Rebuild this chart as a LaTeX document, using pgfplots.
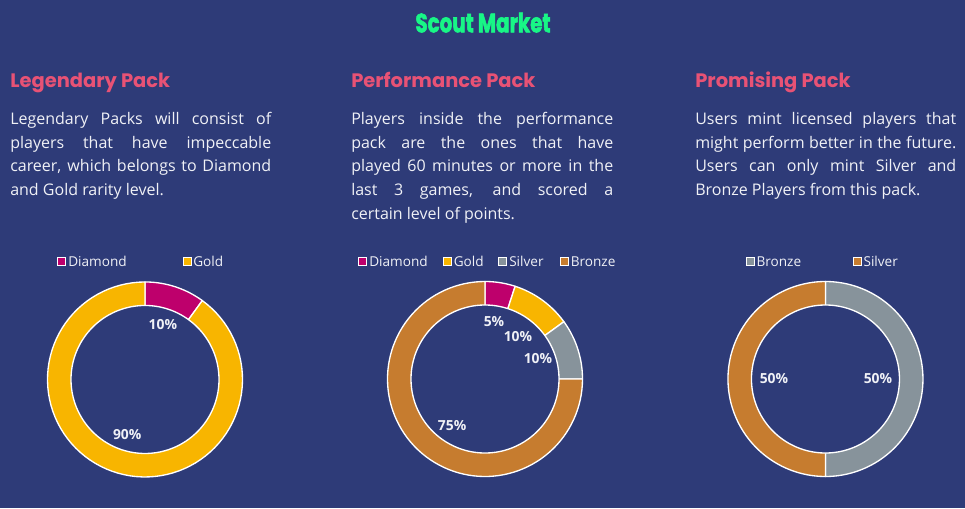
\documentclass[border=0pt]{standalone}
\usepackage{pgfplots}
\pgfplotsset{compat=1.18}
\usepackage{fontspec}
\setmainfont{Open Sans}
\newfontfamily\headfont{Poppins}
\newfontfamily\titlefont{Poppins}[BoldFeatures={FakeBold=2.5}]

\definecolor{bg}{RGB}{46,59,120}
\definecolor{diamond}{RGB}{190,0,108}
\definecolor{gold}{RGB}{248,181,0}
\definecolor{silver}{RGB}{135,147,155}
\definecolor{bronze}{RGB}{198,124,47}
\definecolor{headpink}{RGB}{232,82,117}
\definecolor{titlegreen}{RGB}{24,246,134}
\definecolor{bodywhite}{RGB}{240,241,246}

% one px of the reference = 0.75pt
\pgfplotsset{donut/.style={hide axis, x=0.75pt, y=0.75pt,
    xmin=-100, xmax=100, ymin=-100, ymax=100,
    anchor=center, clip=false}}

% slices run clockwise from 12 o'clock
\newcommand\resetcum{\gdef\cum{0}}
\newcommand\slice[2]{%
  \pgfmathsetmacro\sa{90-3.6*\cum}%
  \pgfmathsetmacro\sb{90-3.6*(\cum+#1)}%
  \pgfmathsetmacro\newcum{\cum+#1}\xdef\cum{\newcum}%
  \edef\temp{\noexpand\addplot[fill=#2, draw=white, line width=1pt,
      line join=round, domain=\sb:\sa, samples=90]
      ({97.5*cos(x)},{97.5*sin(x)}) -- (axis cs:0,0) -- cycle;}%
  \temp}
\newcommand\hole{%
  \addplot[fill=bg, draw=white, line width=1pt, domain=0:360, samples=181]
    ({74*cos(x)},{74*sin(x)}) -- cycle;}
\newcommand\pct[3]{% angle, radius, text
  \node[lbl] at (axis cs:{#2*cos(#1)},{#2*sin(#1)}) {#3};}

\tikzset{
  lbl/.style={font=\bfseries\fontsize{10.4}{11}\selectfont, text=bodywhite, inner sep=0},
  head/.style={font=\headfont\bfseries\fontsize{14.6}{16}\selectfont, text=headpink,
    anchor=base west, inner sep=0},
  body/.style={font=\fontsize{12}{14}\selectfont, text=bodywhite, anchor=base west, inner sep=0},
  leg/.style={font=\fontsize{10.2}{12}\selectfont, text=bodywhite, anchor=base west, inner sep=0},
  sq/.style={draw=white, line width=0.75pt, minimum size=6pt, inner sep=0, anchor=south west}
}
\newcommand\jl[1]{\makebox[195.75pt][s]{#1}}
\newcommand\jll[1]{\makebox[196.5pt][s]{#1}}

\begin{document}
\begin{tikzpicture}
\fill[bg] (0,0) rectangle (723.75pt,-381pt);

% ---------- Legendary Pack: Diamond 10, Gold 90
\begin{axis}[donut, at={(108.75pt,-284.6pt)}]
  \resetcum
  \slice{10}{diamond}
  \slice{90}{gold}
  \hole
  \pct{72}{57.7}{10\%}
  \pct{-108}{57.7}{90\%}
\end{axis}

% ---------- Performance Pack: Diamond 5, Gold 10, Silver 10, Bronze 75
\begin{axis}[donut, at={(363.75pt,-284.25pt)}]
  \resetcum
  \slice{5}{diamond}
  \slice{10}{gold}
  \slice{10}{silver}
  \slice{75}{bronze}
  \hole
  \pct{81}{57.7}{5\%}
  \pct{52}{53.5}{10\%}
  \pct{20.7}{56.6}{10\%}
  \pct{-125}{57.4}{75\%}
\end{axis}

% ---------- Promising Pack: Bronze 50, Silver 50 (as labelled)
\begin{axis}[donut, at={(619.1pt,-284.25pt)}]
  \resetcum
  \slice{50}{silver}
  \slice{50}{bronze}
  \hole
  \pct{0}{52.5}{50\%}
  \pct{180}{51.5}{50\%}
\end{axis}

\begin{scope}[x=0.75pt, y=-0.75pt]
  \node[anchor=base, inner sep=0, text=titlegreen] at (483,32.3)
    {\resizebox{101.25pt}{14.7pt}{\titlefont\bfseries Scout Market}};

  \node[head] at (10,87) {Legendary Pack};
  \node[head] at (351,87) {Performance Pack};
  \node[head] at (695,87) {Promising Pack};

  \node[body] at (10,124.3) {\jl{Legendary Packs will consist of}};
  \node[body] at (10,148) {\jl{players that have impeccable}};
  \node[body] at (10,171.7) {\jl{career, which belongs to Diamond}};
  \node[body] at (10,195.4) {and Gold rarity level.};

  \node[body] at (351,124.3) {\jll{Players inside the performance}};
  \node[body] at (351,148) {\jll{pack are the ones that have}};
  \node[body] at (351,171.7) {\jll{played 60 minutes or more in the}};
  \node[body] at (351,195.4) {\jll{last 3 games, and scored a}};
  \node[body] at (351,219.1) {certain level of points.};

  \node[body] at (695,124.3) {\jl{Users mint licensed players that}};
  \node[body] at (695,148) {\jl{might perform better in the future.}};
  \node[body] at (695,171.7) {\jl{Users can only mint Silver and}};
  \node[body] at (695,195.4) {Bronze Players from this pack.};

  % legends
  \node[sq, fill=diamond] at (57.3,265.7) {};
  \node[leg] at (68,266) {Diamond};
  \node[sq, fill=gold] at (182.7,265.7) {};
  \node[leg] at (193,266) {Gold};

  \node[sq, fill=diamond] at (358.3,265.7) {};
  \node[leg] at (369,266) {Diamond};
  \node[sq, fill=gold] at (443,265.7) {};
  \node[leg] at (453.5,266) {Gold};
  \node[sq, fill=silver] at (498.3,265.7) {};
  \node[leg] at (509,266) {Silver};
  \node[sq, fill=bronze] at (560,265.7) {};
  \node[leg] at (570.5,266) {Bronze};

  \node[sq, fill=silver] at (745.7,265.7) {};
  \node[leg] at (756.3,266) {Bronze};
  \node[sq, fill=bronze] at (852.7,265.7) {};
  \node[leg] at (863.3,266) {Silver};
\end{scope}

\pgfresetboundingbox
\path[use as bounding box] (0,0) rectangle (723.75pt,-381pt);
\end{tikzpicture}
\end{document}
